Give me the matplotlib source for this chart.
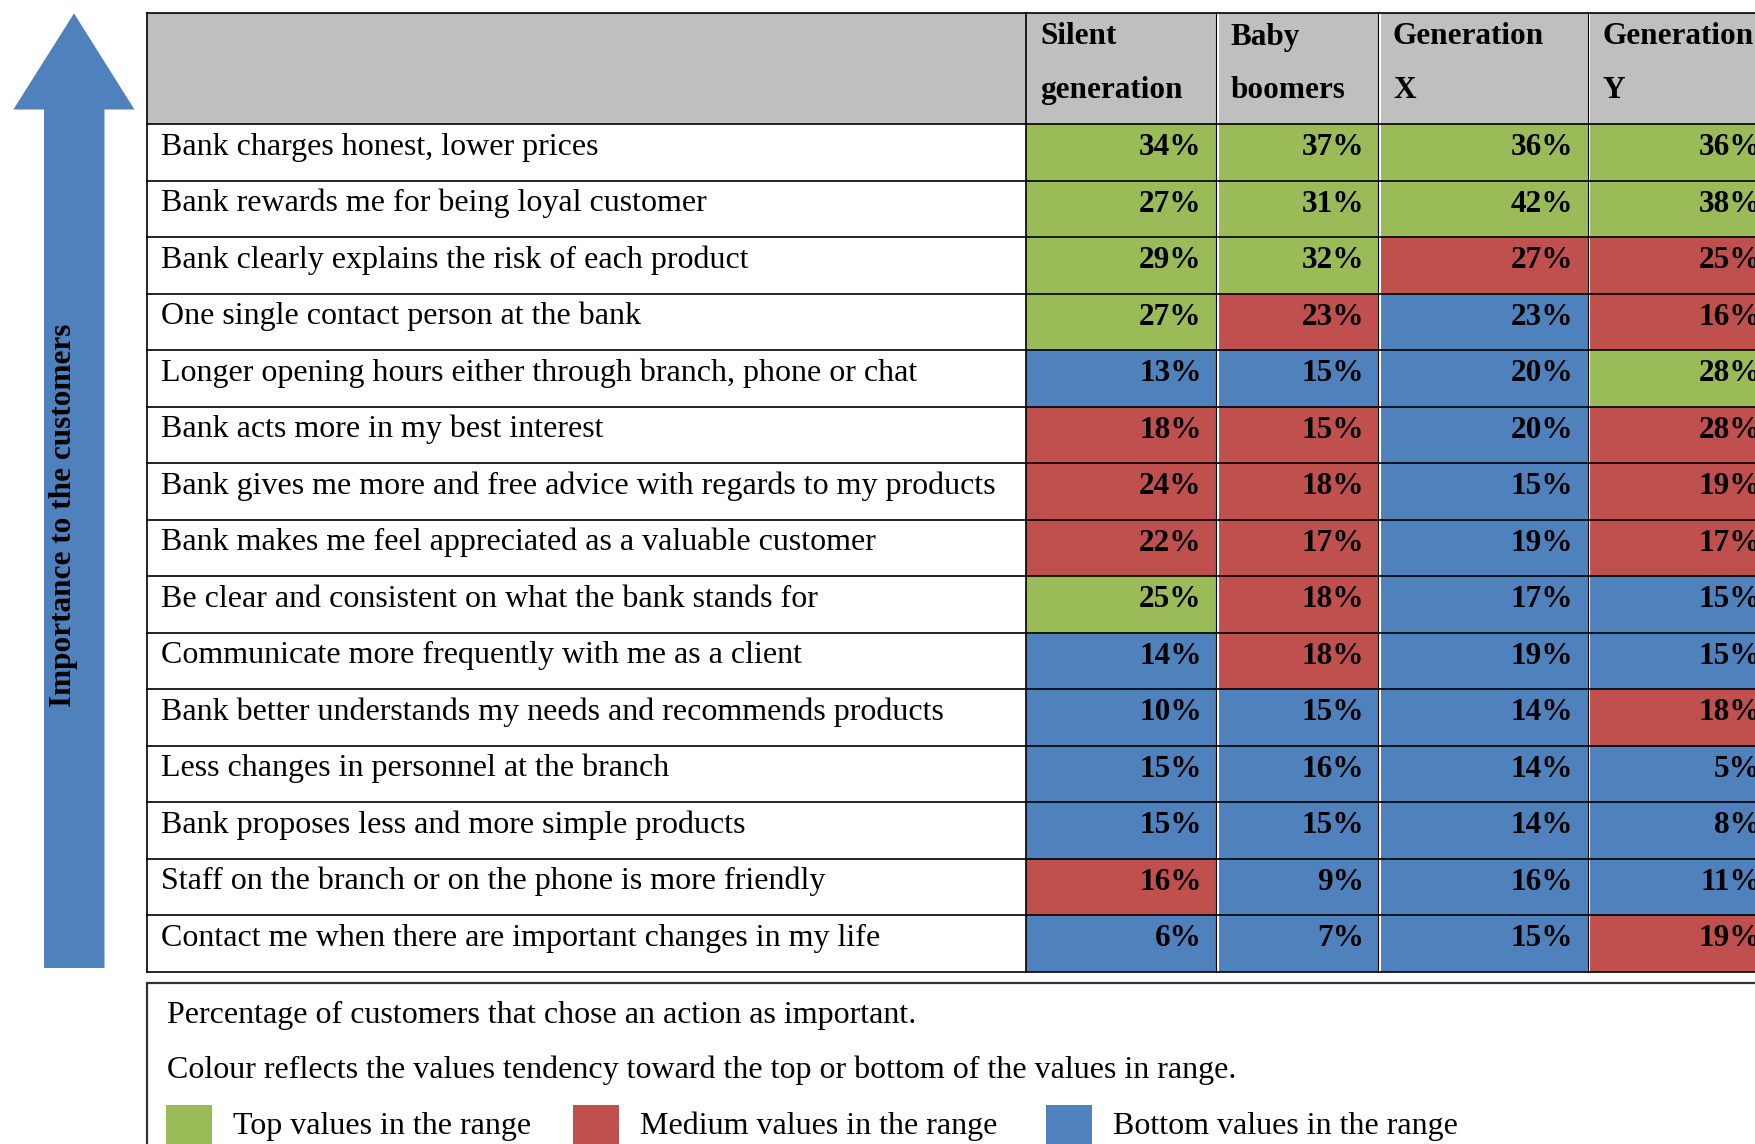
import matplotlib
matplotlib.use("Agg")
import matplotlib.pyplot as plt
from matplotlib.patches import Rectangle, Polygon

plt.rcParams['font.family'] = ['Liberation Serif', 'DejaVu Serif']

# ---------------- data ----------------
generations = ["Silent\ngeneration", "Baby\nboomers", "Generation\nX", "Generation\nY"]
actions = [
    "Bank charges honest, lower prices",
    "Bank rewards me for being loyal customer",
    "Bank clearly explains the risk of each product",
    "One single contact person at the bank",
    "Longer opening hours either through branch, phone or chat",
    "Bank acts more in my best interest",
    "Bank gives me more and free advice with regards to my products",
    "Bank makes me feel appreciated as a valuable customer",
    "Be clear and consistent on what the bank stands for",
    "Communicate more frequently with me as a client",
    "Bank better understands my needs and recommends products",
    "Less changes in personnel at the branch",
    "Bank proposes less and more simple products",
    "Staff on the branch or on the phone is more friendly",
    "Contact me when there are important changes in my life",
]
silent = [34, 27, 29, 27, 13, 18, 24, 22, 25, 14, 10, 15, 15, 16, 6]
boomers = [37, 31, 32, 23, 15, 15, 18, 17, 18, 18, 15, 16, 15, 9, 7]
gen_x = [36, 42, 27, 23, 20, 20, 15, 19, 17, 19, 14, 14, 14, 16, 15]
gen_y = [36, 38, 25, 16, 28, 28, 19, 17, 15, 15, 18, 5, 8, 11, 19]
# tiers: T = top, M = medium, B = bottom
silent_tier = list("TTTTBMMMTBBBBMB")
boomers_tier = list("TTTMBMMMMMBBBBB")
gen_x_tier = list("TTMBBBBBBBBBBBB")
gen_y_tier = list("TTMMTMMMBBMBBBM")
tier_names = {"T": "Top values in the range",
              "M": "Medium values in the range",
              "B": "Bottom values in the range"}
note1 = "Percentage of customers that chose an action as important."
note2 = "Colour reflects the values tendency toward the top or bottom of the values in range."
arrow_label = "Importance to the customers"

values = [silent, boomers, gen_x, gen_y]
tiers = [silent_tier, boomers_tier, gen_x_tier, gen_y_tier]

# ---------------- styles ----------------
colors = {"T": "#9BBB59", "M": "#C0504D", "B": "#4F81BD"}
header_gray = "#BFBFBF"
arrow_color = "#4F81BD"
FS = 23
FSB = 22.5

W, H = 1755, 1144
fig = plt.figure(figsize=(W / 100, H / 100), dpi=100)
ax = fig.add_axes([0, 0, 1, 1])
ax.set_xlim(0, W)
ax.set_ylim(H, 0)
ax.axis("off")

# layout
x_left = 146.6
col_edges = [1026.4, 1216.7, 1379.0, 1588.3, 1776.0]
y_top = 13.4
y_head = 124.2
y_bot = 971.6
n = len(actions)
rh = (y_bot - y_head) / n

# header
ax.add_patch(Rectangle((x_left, y_top), W + 50 - x_left, y_head - y_top,
                       facecolor=header_gray, edgecolor="none", zorder=1))
for j, g in enumerate(generations):
    l1, l2 = g.split("\n")
    ax.text(col_edges[j] + 14, 44.5, l1, fontsize=FSB, fontweight="bold",
            ha="left", va="baseline", zorder=5)
    ax.text(col_edges[j] + 14, 98, l2, fontsize=FSB, fontweight="bold",
            ha="left", va="baseline", zorder=5)

# body
for i, a in enumerate(actions):
    yt = y_head + i * rh
    ax.text(x_left + 14.5, yt + 30.5, a, fontsize=FS, ha="left", va="baseline", zorder=5)
    for j in range(4):
        ax.add_patch(Rectangle((col_edges[j], yt), col_edges[j + 1] - col_edges[j] + 40, rh,
                               facecolor=colors[tiers[j][i]], edgecolor="none",
                               zorder=1 + 0.01 * j))
        ax.text(col_edges[j + 1] - 15, yt + 31, f"{values[j][i]}%", fontsize=FSB,
                fontweight="bold", ha="right", va="baseline", zorder=5)

# grid lines
for j in range(1, 4):
    ax.plot([col_edges[j] + 1, col_edges[j] + 1], [y_top, y_bot], color="white", lw=1.5, zorder=3)
    ax.plot([col_edges[j] - 0.5, col_edges[j] - 0.5], [y_top, y_bot], color="black", lw=0.8, zorder=3)
ax.plot([col_edges[0], col_edges[0]], [y_top, y_bot], color="black", lw=1.2, zorder=3)
for i in range(n + 1):
    yy = y_head + i * rh
    ax.plot([x_left, W + 50], [yy, yy], color="black", lw=1.2, zorder=4)
ax.plot([x_left, W + 50], [y_top, y_top], color="black", lw=1.2, zorder=4)
ax.plot([x_left, x_left], [y_top, y_bot], color="black", lw=1.2, zorder=4)

# arrow
arrow = Polygon([(74, 13.4), (134.5, 109.5), (104.5, 109.5), (104.5, 968),
                 (44, 968), (44, 109.5), (13.4, 109.5)], closed=True,
                facecolor=arrow_color, edgecolor="none", zorder=1)
ax.add_patch(arrow)
ax.text(63.5, 515, arrow_label, rotation=90, fontsize=FSB, fontweight="bold",
        ha="center", va="center", zorder=5)

# legend box
ax.add_patch(Rectangle((146.6, 982.5), 1700, 300, facecolor="white",
                       edgecolor="#333333", lw=1.6, zorder=1))
ax.text(166.8, 1023, note1, fontsize=FS, ha="left", va="baseline", zorder=5)
ax.text(166.8, 1078, note2, fontsize=FS, ha="left", va="baseline", zorder=5)
leg_x = [165.6, 573.0, 1046.5]
for k, key in zip(leg_x, ["T", "M", "B"]):
    ax.add_patch(Rectangle((k, 1105), 46, 45, facecolor=colors[key],
                           edgecolor="none", zorder=2))
    ax.text(k + 67, 1134, tier_names[key], fontsize=FS, ha="left", va="baseline", zorder=5)

fig.savefig("out.png", dpi=100)
